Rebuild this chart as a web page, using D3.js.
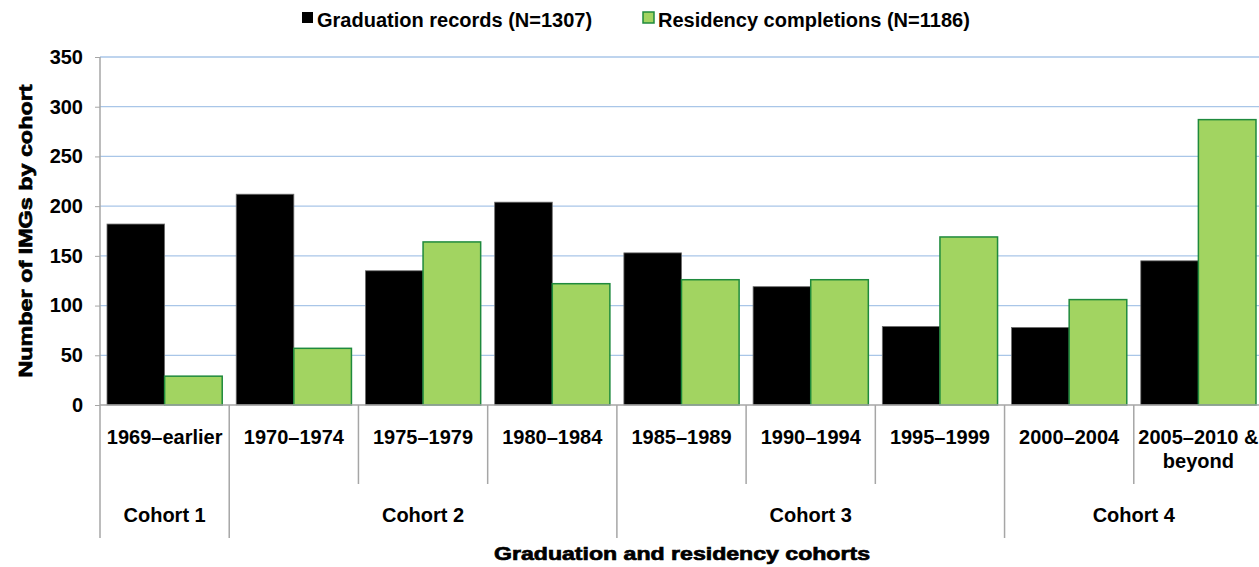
<!DOCTYPE html>
<html><head><meta charset="utf-8">
<script src="https://cdn.jsdelivr.net/npm/d3@7"></script>
<style>
html,body{margin:0;padding:0;background:#fff;overflow:hidden}
text{font-family:"Liberation Sans",Arial,sans-serif}
</style></head>
<body><svg id="chart" width="1259" height="567"></svg>
<script>
const categories = ["1969–earlier","1970–1974","1975–1979","1980–1984","1985–1989","1990–1994","1995–1999","2000–2004","2005–2010 &\nbeyond"];
const graduation = [182,212,135,204,153,119,79,78,145];
const residency = [29,57,164,122,126,126,169,106,287];
const seriesNames = ["Graduation records (N=1307)","Residency completions (N=1186)"];
const cohorts = ["Cohort 1","Cohort 2","Cohort 3","Cohort 4"];
const cohortSizes = [1,3,3,2];
const yTicks = [0,50,100,150,200,250,300,350];

(function(){
const svg = d3.select("#chart");
const pL = 100, pR = 1263, pT = 57, pB = 405;
const x = d3.scaleBand().domain(d3.range(categories.length)).range([pL, pR]).padding(0);
const x1 = d3.scaleBand().domain([0,1]).range([0, x.bandwidth()]).paddingInner(0).paddingOuter(0.1215);
const y = d3.scaleLinear().domain([0,350]).range([pB, pT]);

const axisGray = "#a6a6a6";
// gridlines
svg.append("g").selectAll("line").data(yTicks.filter(d=>d>0)).join("line")
  .attr("x1", pL).attr("x2", 1259).attr("y1", d=>y(d)).attr("y2", d=>y(d))
  .attr("stroke", "#a9c6e8").attr("stroke-width", 1.3);

// y axis
const yAxis = d3.axisLeft(y).tickValues(yTicks).tickSize(5).tickPadding(12);
const gy = svg.append("g").attr("transform", `translate(${pL},0)`).call(yAxis);
gy.select(".domain").remove();
gy.selectAll(".tick line").attr("stroke", axisGray);
gy.selectAll(".tick text").attr("font-size", 20).attr("font-weight", "bold").attr("fill", "#000")
  .attr("font-family", '"Liberation Sans",Arial,sans-serif');

// bars
const colors = ["#000000", "#a2d461"];
const strokes = ["#6e6e6e", "#1f8a3d"];
const data = categories.map((c,i)=>[graduation[i], residency[i]]);
const gBars = svg.append("g");
data.forEach((vals,i)=>{
  vals.forEach((v,s)=>{
    gBars.append("rect")
      .attr("x", x(i) + x1(s)).attr("width", x1.bandwidth())
      .attr("y", y(v)).attr("height", y(0) - y(v))
      .attr("fill", colors[s]).attr("stroke", strokes[s]).attr("stroke-width", s===1?1.5:0.8);
  });
});

// axes lines
svg.append("line").attr("x1", pL).attr("x2", 1259).attr("y1", pB).attr("y2", pB)
  .attr("stroke", axisGray).attr("stroke-width", 1.5);
svg.append("line").attr("x1", pL).attr("x2", pL).attr("y1", pT).attr("y2", 538)
  .attr("stroke", axisGray).attr("stroke-width", 1.5);

// category separators
const cohortStarts = [];
let acc = 0; cohortSizes.forEach(s=>{cohortStarts.push(acc); acc+=s;});
for (let i = 1; i <= categories.length; i++) {
  const xb = i < categories.length ? x(i) : pR;
  const isCohortBoundary = cohortStarts.includes(i) || i === categories.length;
  svg.append("line").attr("x1", xb).attr("x2", xb).attr("y1", pB).attr("y2", isCohortBoundary ? 538 : 484)
    .attr("stroke", axisGray).attr("stroke-width", 1.5);
}

// category labels
categories.forEach((c,i)=>{
  const lines = c.split("\n");
  const t = svg.append("text").attr("x", x(i) + x.bandwidth()/2).attr("y", 444)
    .attr("text-anchor", "middle").attr("font-size", 20).attr("font-weight", "bold");
  lines.forEach((ln,k)=>{
    t.append("tspan").attr("x", x(i) + x.bandwidth()/2).attr("dy", k===0?0:24).text(ln);
  });
});

// cohort labels
cohorts.forEach((c,k)=>{
  const s = cohortStarts[k], e = s + cohortSizes[k];
  const x0 = x(s), x2 = e < categories.length ? x(e) : pR;
  svg.append("text").attr("x", (x0+x2)/2).attr("y", 522).attr("text-anchor","middle")
    .attr("font-size", 20).attr("font-weight","bold").text(c);
});

// axis titles
svg.append("text").attr("x", 682).attr("y", 560).attr("text-anchor","middle")
  .attr("font-family",'"DejaVu Sans",sans-serif').attr("font-weight","bold").attr("font-size", 19)
  .attr("stroke", "#000").attr("stroke-width", 0.7)
  .attr("textLength", 376).attr("lengthAdjust","spacingAndGlyphs")
  .text("Graduation and residency cohorts");
svg.append("text").attr("transform","translate(32,231) rotate(-90)").attr("text-anchor","middle")
  .attr("font-family",'"DejaVu Sans",sans-serif').attr("font-weight","bold").attr("font-size", 19)
  .attr("stroke", "#000").attr("stroke-width", 0.7)
  .attr("textLength", 293).attr("lengthAdjust","spacingAndGlyphs")
  .text("Number of IMGs by cohort");

// legend
const legendX = [302, 643];
seriesNames.forEach((n,s)=>{
  svg.append("rect").attr("x", legendX[s]).attr("y", 12).attr("width", 11).attr("height", 11)
    .attr("fill", colors[s]).attr("stroke", s===1?strokes[1]:"none").attr("stroke-width", 1.5);
  svg.append("text").attr("x", legendX[s] + 15).attr("y", 27).attr("font-size", 20).attr("font-weight","bold").text(n);
});
})();
</script></body></html>
